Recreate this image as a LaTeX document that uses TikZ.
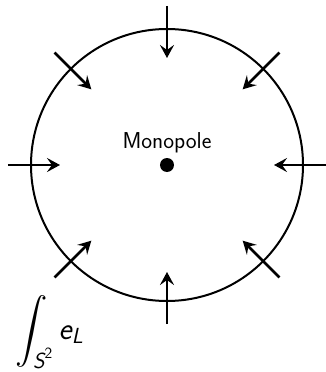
\documentclass[tikz,border=0pt]{standalone}
\usepackage{fix-cm}
\usepackage{amsmath}
\usepackage{graphicx}
\usepackage{fontspec}
\usepackage{tikz}
\usetikzlibrary{arrows.meta}

\begin{document}
\begin{tikzpicture}[
  x=1pt, y=1pt,
  sphere/.style={draw, circle, line width=2pt, minimum size=272pt, inner sep=0pt},
  charge/.style={fill, circle, minimum size=14pt, inner sep=0pt},
  arr/.style={-{Stealth[length=13pt, width=14pt, inset=5pt]}, line width=2.6pt},
  lbl/.style={font=\fontsize{23}{27}\selectfont\sffamily, inner sep=0pt}
]
\useasboundingbox (-167,-207) rectangle (158,165);
\node[sphere] (sphere) at (0,0) {};
\node[charge] (pole) at (0,0) {};
\node[lbl, anchor=base] (name) at (0,17) {Monopole};
% flux lines pointing inward
\foreach \a in {0,45,...,315} {
  \coordinate (out\a) at (\a:159);
  \coordinate (in\a) at (\a:107);
  \draw[arr] (out\a) -- (in\a);
}
\node[anchor=south west, inner sep=0pt, font=\fontsize{24}{28}\selectfont] (flux) at (-152,-204)
  {\scalebox{1.3}{$\displaystyle\int_{\textsf{\slshape S}^{\textsf{2}}} \textsf{\slshape e}_{\textsf{\slshape L}}$}};
\end{tikzpicture}
\end{document}
